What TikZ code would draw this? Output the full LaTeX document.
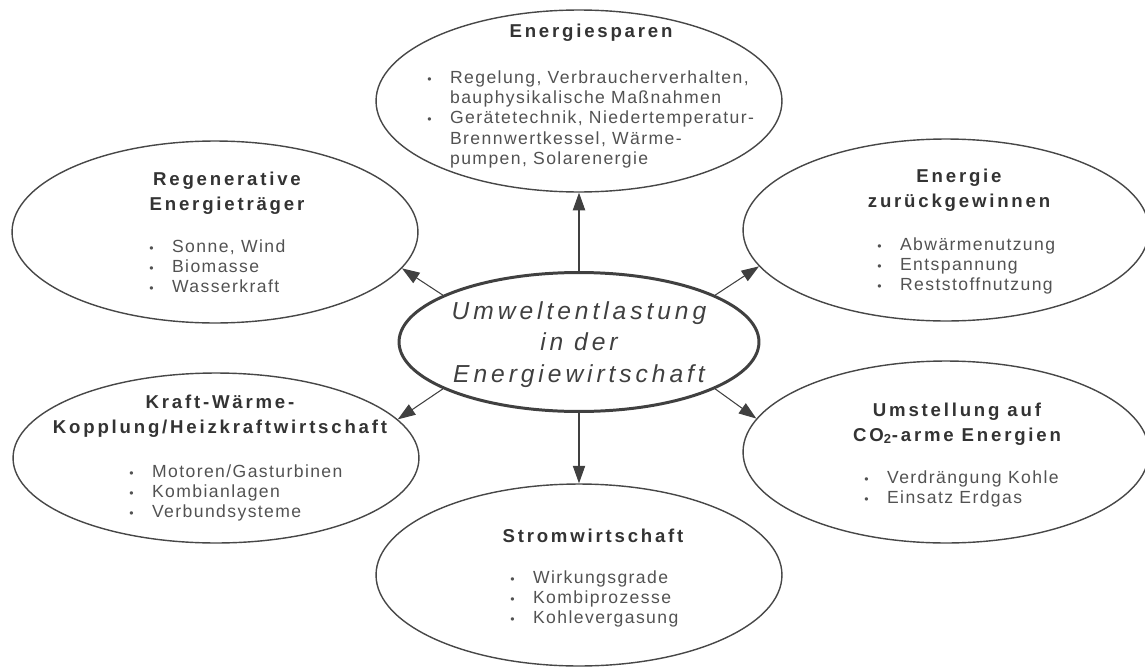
\documentclass[tikz,border=0pt]{standalone}
\usepackage{fontspec}
\setmainfont{Liberation Sans}
\newfontfamily\ttlfont[LetterSpace=15]{Liberation Sans}
\newfontfamily\txtfont[LetterSpace=8]{Liberation Sans}
\newfontfamily\midfont[LetterSpace=16]{Liberation Sans}
\usetikzlibrary{shapes.geometric,arrows.meta}

\newcommand{\pkt}{{\fontsize{7}{7}\selectfont •}}
\newcommand{\titel}[1]{\begin{tabular}[b]{@{}c@{}}#1\end{tabular}}
\newcommand{\liste}[1]{\begin{tabular}[t]{@{}l@{\hspace{10.5pt}}l@{}}#1\end{tabular}}

\begin{document}
\begin{tikzpicture}[x=0.02cm,y=-0.02cm,
  feld/.style={draw=black!72, line width=0.8pt, ellipse, minimum width=8.12cm, minimum height=3.64cm, inner sep=0pt},
  kopf/.style={anchor=base, inner sep=0pt, text=black!80, font=\fontsize{10.6}{14.2}\selectfont\ttlfont\bfseries},
  punkte/.style={anchor=base west, inner sep=0pt, text=black!68, font=\fontsize{10}{11.6}\selectfont\txtfont},
  pfeil/.style={draw=black!75, line width=0.6pt, -{Triangle[length=10pt,width=7pt]}}]
\useasboundingbox (0,0) rectangle (1145,666);

\node[feld] (spar) at (579,101) {};
\node[feld] (regen) at (215,232) {};
\node[feld] (rueck) at (946,230) {};
\node[feld, minimum height=3.4cm] (kwk) at (216,458) {};
\node[feld] (co2) at (946,452) {};
\node[feld] (strom) at (579,575) {};
\node[draw=black!75, line width=1.7pt, ellipse, minimum width=7.2cm, minimum height=2.78cm, inner sep=0pt] (mitte) at (579,342) {};

\node[kopf] (spar-t) at (591,37) {\titel{Energiesparen}};
\node[punkte] (spar-l) at (427,83) {\liste{\pkt & Regelung, Verbraucherverhalten,\\ & bauphysikalische Maßnahmen\\ \pkt & Gerätetechnik, Niedertemperatur-\\ & Brennwertkessel, Wärme-\\ & pumpen, Solarenergie}};

\node[kopf] (regen-t) at (227,210) {\titel{Regenerative\\Energieträger}};
\node[punkte] (regen-l) at (149,252) {\liste{\pkt & Sonne, Wind\\ \pkt & Biomasse\\ \pkt & Wasserkraft}};

\node[kopf] (rueck-t) at (959,207) {\titel{Energie\\zurückgewinnen}};
\node[punkte] (rueck-l) at (877,250) {\liste{\pkt & Abwärmenutzung\\ \pkt & Entspannung\\ \pkt & Reststoffnutzung}};

\node[kopf] (kwk-t) at (220,433) {\titel{Kraft-Wärme-\\Kopplung/Heizkraftwirtschaft}};
\node[punkte] (kwk-l) at (129,477) {\liste{\pkt & Motoren/Gasturbinen\\ \pkt & Kombianlagen\\ \pkt & Verbundsysteme}};

\node[kopf] (co2-t) at (957,441) {\titel{Umstellung auf\\CO\textsubscript{2}-arme Energien}};
\node[punkte] (co2-l) at (864,483) {\liste{\pkt & Verdrängung Kohle\\ \pkt & Einsatz Erdgas}};

\node[kopf] (strom-t) at (593,542) {\titel{Stromwirtschaft}};
\node[punkte] (strom-l) at (510,583) {\liste{\pkt & Wirkungsgrade\\ \pkt & Kombiprozesse\\ \pkt & Kohlevergasung}};

\node[anchor=base, inner sep=0pt, text=black!75, font=\fontsize{14}{17.8}\selectfont\midfont\itshape] (mitte-t) at (579,382) {\titel{Umweltentlastung\\in der\\Energiewirtschaft}};

\draw[pfeil] (mitte.north) -- (spar.south);
\draw[pfeil] (mitte.south) -- (strom.north);
\draw[pfeil] (mitte.161) -- (regen.-11);
\draw[pfeil] (mitte.19) -- (rueck.191);
\draw[pfeil] (mitte.199) -- (kwk.12);
\draw[pfeil] (mitte.-19) -- (co2.170);
\end{tikzpicture}
\end{document}
